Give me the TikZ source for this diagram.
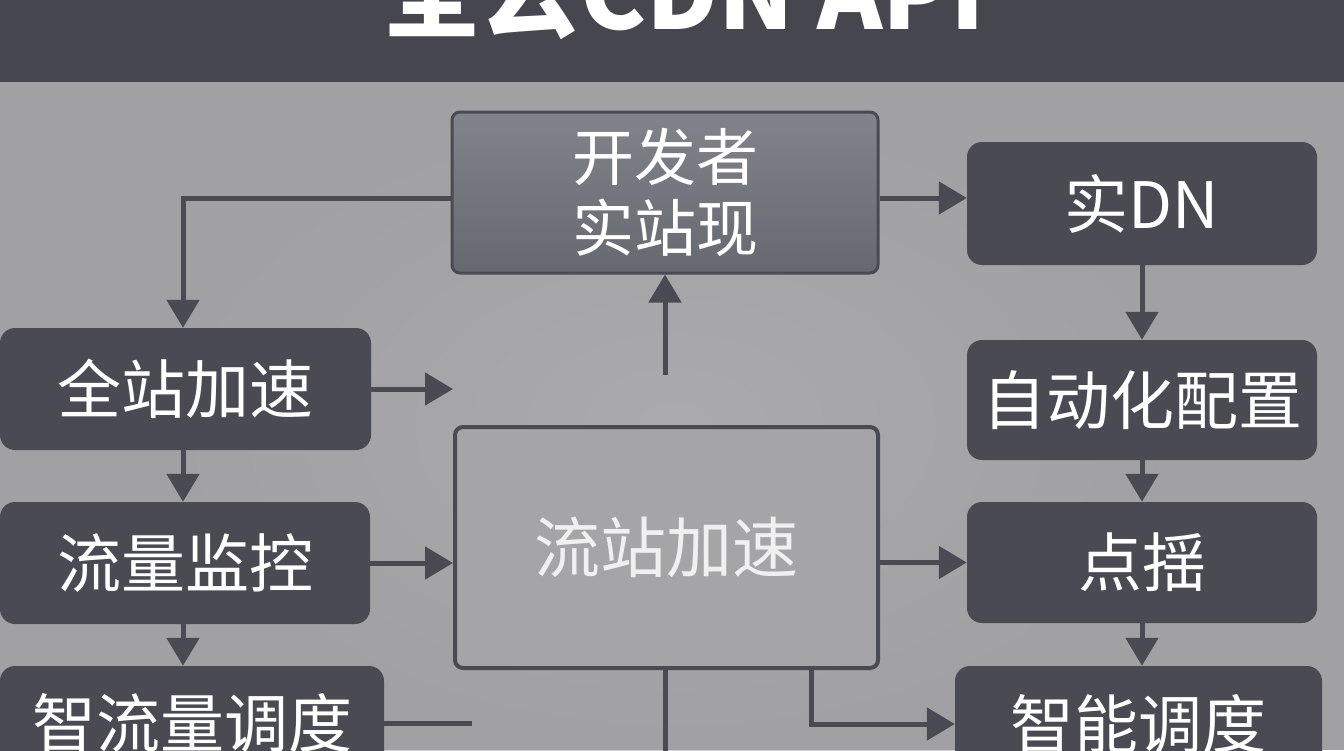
\documentclass[tikz,border=0pt]{standalone}
\usepackage{fontspec}
\newfontfamily\cjk{Noto Sans CJK SC}
\usetikzlibrary{arrows.meta,calc}
\definecolor{bgc}{HTML}{A1A1A4}
\definecolor{barc}{HTML}{46474E}
\definecolor{boxc}{HTML}{494A52}
\definecolor{topc}{HTML}{6C6E76}
\definecolor{linec}{HTML}{494A52}
\tikzset{
  darkbox/.style={fill=boxc, draw=none, rounded corners=15pt, text=white,
    inner sep=0pt, font=\cjk\fontsize{64}{72}\selectfont},
  conn/.style={draw=linec, line width=5pt},
  arr/.style={conn, -{Triangle[length=28pt,width=32pt]}},
}
\begin{document}
\begin{tikzpicture}[x=1pt,y=-1pt]
\useasboundingbox (0,0) rectangle (1344,750);
\fill[bgc] (0,0) rectangle (1344,750);
\shade[inner color=bgc!80!white, outer color=bgc, opacity=0.5] (150,100) rectangle (1200,750);
\fill[barc] (0,0) rectangle (1344,82);
\node[text=white, font=\cjk\bfseries\fontsize{99}{110}\selectfont, anchor=base, inner sep=0pt] (title) at (684,29) {全云CDN API};

% top box
\node[draw=linec, line width=3pt, top color=topc!85!white, bottom color=topc!95!black, rounded corners=8pt, text=white,
  minimum width=426pt, minimum height=161pt, inner sep=0pt, align=center,
  font=\cjk\fontsize{62}{71}\selectfont] (top) at (665,192.5) {开发者\\实站现};

% right column
\node[darkbox, minimum width=350pt, minimum height=123pt] (shi) at (1142,203.5) {实DN};
\node[darkbox, minimum width=350pt, minimum height=120pt] (auto) at (1142,400) {自动化配置};
\node[darkbox, minimum width=350pt, minimum height=121pt] (dian) at (1142,562.5) {点揺};
\node[darkbox, minimum width=367pt, minimum height=116pt] (zhineng) at (1138.5,724) {智能调度};

% left column
\node[darkbox, minimum width=371pt, minimum height=122pt] (quan) at (185.5,389) {全站加速};
\node[darkbox, minimum width=370pt, minimum height=122pt] (liu) at (185,563) {流量监控};
\node[darkbox, minimum width=384pt, minimum height=114pt] (zhiliu) at (192,723) {智流量调度};

% centre box
\node[draw=linec, line width=4pt, fill=bgc!96!white, rounded corners=8pt, text=white!94!black,
  minimum width=423pt, minimum height=241pt, inner sep=0pt,
  font=\cjk\fontsize{66}{72}\selectfont] (mid) at (666.5,547.5) {\raisebox{-8pt}{流站加速}};

% free ends
\coordinate (c1) at (453,389);
\coordinate (c2) at (665,375);
\coordinate (c3) at (472,723);
\coordinate (c4) at (665,760);
\coordinate (c5) at (811,724);

% connectors
\draw[arr] ([yshift=-5.5pt]top.west) -| (quan.north -| 183,0);
\draw[arr] (quan.east) -- (c1);
\draw[arr] (c2) -- (top.south);
\draw[arr] ([yshift=-5.5pt]top.east) -- ([yshift=-5.5pt]top.east -| shi.west);
\draw[arr] (shi.south) -- (auto.north);
\draw[arr] (auto.south) -- (dian.north);
\draw[arr] (dian.south) -- (dian.south |- zhineng.north);
\draw[arr] (quan.south -| 183,0) -- (liu.north -| 183,0);
\draw[arr] (liu.south -| 183,0) -- (zhiliu.north -| 183,0);
\draw[arr] (liu.east) -- (liu.east -| mid.west);
\draw[arr] (mid.east |- dian.west) -- (dian.west);
\draw[conn] (zhiliu.east) -- (c3);
\draw[conn] (mid.south -| c4) -- (c4);
\draw[arr] (mid.south -| c5) -- (c5) -- (c5 -| zhineng.west);
\end{tikzpicture}
\end{document}
